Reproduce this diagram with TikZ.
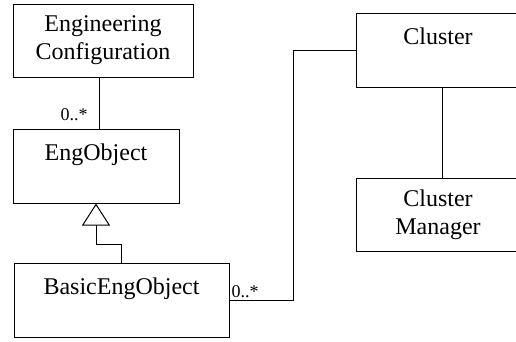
\documentclass[tikz,border=0pt]{standalone}
\usepackage{fontspec}
\setmainfont{Liberation Serif}
\usetikzlibrary{arrows.meta, positioning}

\begin{document}
\begin{tikzpicture}[x=1pt, y=-1pt, line width=1pt,
		box/.style={draw, inner xsep=0pt, inner ysep=0pt, font=\fontsize{24}{28}\selectfont},
		onebox/.style={box, text height=30.5pt, text depth=43pt, anchor=north},
		twobox/.style={box, align=center, minimum height=73pt},
		mult/.style={inner sep=0pt, font=\fontsize{18}{20}\selectfont}]
		\clip (0,0) rectangle (516,341);
		% classes
		\node[twobox, minimum width=180pt] (engconf) at (103,40.5) {Engineering\\Configuration};
		\node[onebox, minimum width=166pt] (engobj) at (96,129) {EngObject};
		\node[onebox, minimum width=215pt] (basic) at (121.5,263) {BasicEngObject};
		\node[onebox, minimum width=164pt] (cluster) at (438,13) {Cluster};
		\node[twobox, minimum width=164pt] (manager) at (438,214.5) {Cluster\\Manager};
		
		% associations
		\draw ([xshift=-4pt]engconf.south) -- ([xshift=-4pt]engconf.south |- engobj.north);
		\draw (basic.east) -- ++(64,0) |- (cluster.west);
		\draw ([xshift=4pt]cluster.south) -- ([xshift=4pt]cluster.south |- manager.north);
		\draw[-{Triangle[open, length=22pt, width=28pt]}] (basic.north) -- ++(0,-19) -| (engobj.south);
		
		% multiplicities
		\node[mult, anchor=base east] (m1) at (88,120) {0..*};
		\node[mult, anchor=base west] (m2) at (231,297) {0..*};
		\end{tikzpicture}
\end{document}
